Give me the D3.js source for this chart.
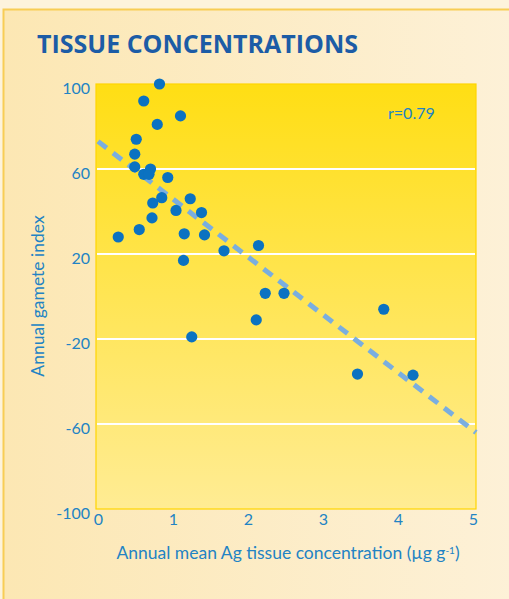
<!DOCTYPE html>
<html>
<head>
<meta charset="utf-8">
<script src="https://cdn.jsdelivr.net/npm/d3@7"></script>
<style>
  body { margin: 0; background: #fdf3dc; }
  svg { display: block; }
</style>
</head>
<body>
<div id="chart"></div>
<script>
// Ag tissue concentration (ug/g) vs annual gamete index
const agConc = [0.82, 0.61, 1.10, 0.79, 0.51, 0.49, 0.49, 0.70, 0.61, 0.68,
  0.93, 0.85, 1.23, 0.73, 1.04, 1.38, 0.72, 0.27, 0.55, 1.15,
  1.42, 1.68, 2.14, 1.14, 2.23, 2.48, 2.11, 1.25, 3.81, 3.46, 4.20];
const gameteIndex = [100, 92, 85, 81, 74, 67, 61, 60, 57.5, 57.5,
  56, 46.5, 46, 44, 40.5, 39.5, 37, 28, 31.5, 29.5,
  29, 21.5, 24, 17, 1.5, 1.5, -11, -19, -6, -36.5, -37];
const trendEnds = [[0, 73], [5, -64]];
const xTicks = [0, 1, 2, 3, 4, 5];
const yTicks = [100, 60, 20, -20, -60, -100];
const gridValues = [60, 20, -20, -60];

const W = 509, H = 599;
const plot = { left: 96, right: 476, top: 84, bottom: 509 };

const svg = d3.select("#chart").append("svg")
  .attr("width", W).attr("height", H);

const defs = svg.append("defs");
const panelGrad = defs.append("linearGradient").attr("id", "panelGrad")
  .attr("x1", 0).attr("x2", 1).attr("y1", 0).attr("y2", 0);
panelGrad.append("stop").attr("offset", 0).attr("stop-color", "#fce7b3");
panelGrad.append("stop").attr("offset", 1).attr("stop-color", "#fdf1d8");

const plotGrad = defs.append("linearGradient").attr("id", "plotGrad")
  .attr("x1", 0).attr("x2", 0).attr("y1", 0).attr("y2", 1);
plotGrad.append("stop").attr("offset", 0).attr("stop-color", "#ffde14");
plotGrad.append("stop").attr("offset", 1).attr("stop-color", "#ffec94");

// panel
svg.append("rect")
  .attr("x", 3.5).attr("y", 9.5)
  .attr("width", W + 10).attr("height", H + 10)
  .attr("fill", "url(#panelGrad)")
  .attr("stroke", "#f8cd55").attr("stroke-width", 2);

svg.append("text")
  .attr("x", 37).attr("y", 53)
  .attr("fill", "#1c5ca6")
  .style("font-family", "'Open Sans', sans-serif")
  .style("font-weight", "bold")
  .style("font-size", "25px")
  .text("TISSUE CONCENTRATIONS");

const x = d3.scaleLinear().domain([0, 5]).range([plot.left + 2, plot.right - 3]);
const y = d3.scaleLinear().domain([-100, 100]).range([plot.bottom, plot.top]);

svg.append("rect")
  .attr("x", plot.left).attr("y", plot.top)
  .attr("width", plot.right - plot.left).attr("height", plot.bottom - plot.top)
  .attr("fill", "url(#plotGrad)")
  .attr("stroke", "#ffd500").attr("stroke-width", 1.2);

// white gridlines
svg.append("g").selectAll("line")
  .data(gridValues)
  .join("line")
  .attr("x1", plot.left + 1).attr("x2", plot.right - 1)
  .attr("y1", d => y(d)).attr("y2", d => y(d))
  .attr("stroke", "#fff").attr("stroke-width", 2);

const tickColor = "#2283c4";
const tickFont = "Lato, sans-serif";

const gy = svg.append("g")
  .attr("transform", `translate(${plot.left},0)`)
  .call(d3.axisLeft(y).tickValues(yTicks).tickFormat(d => String(d))
    .tickSize(0).tickPadding(6))
  .call(g => g.select(".domain").remove());
gy.selectAll(".tick text")
  .attr("fill", tickColor)
  .attr("dy", "0.6em")
  .style("font-family", tickFont)
  .style("font-size", "16px");

const gx = svg.append("g")
  .attr("transform", `translate(0,${plot.bottom})`)
  .call(d3.axisBottom(x).tickValues(xTicks).tickFormat(d => String(d))
    .tickSize(0).tickPadding(5))
  .call(g => g.select(".domain").remove());
gx.selectAll(".tick text")
  .attr("fill", tickColor)
  .style("font-family", tickFont)
  .style("font-size", "16px");

// axis titles
const xTitle = svg.append("text")
  .attr("x", 288).attr("y", 559)
  .attr("text-anchor", "middle")
  .attr("fill", tickColor)
  .style("font-family", tickFont)
  .style("font-size", "17.5px");
xTitle.append("tspan").text("Annual mean Ag tissue concentration (µg g");
xTitle.append("tspan").attr("dy", -5).style("font-size", "10px").text("-1");
xTitle.append("tspan").attr("dy", 5).text(")");

svg.append("text")
  .attr("transform", "translate(44,296) rotate(-90)")
  .attr("text-anchor", "middle")
  .attr("fill", tickColor)
  .style("font-family", tickFont)
  .style("font-size", "17.5px")
  .text("Annual gamete index");

// regression line
svg.append("line")
  .attr("x1", x(trendEnds[0][0])).attr("y1", y(trendEnds[0][1]))
  .attr("x2", x(trendEnds[1][0]) + 3).attr("y2", y(trendEnds[1][1]))
  .attr("stroke", "#7aaedf").attr("stroke-width", 5)
  .attr("stroke-dasharray", "11,8");

// points
svg.append("g").selectAll("circle")
  .data(agConc.map((d, i) => [d, gameteIndex[i]]))
  .join("circle")
  .attr("cx", d => x(d[0]))
  .attr("cy", d => y(d[1]))
  .attr("r", 5.6)
  .attr("fill", "#0b72c1");

svg.append("text")
  .attr("x", 388).attr("y", 119)
  .attr("fill", tickColor)
  .style("font-family", tickFont)
  .style("font-size", "16px")
  .text("r=0.79");
</script>
</body>
</html>
